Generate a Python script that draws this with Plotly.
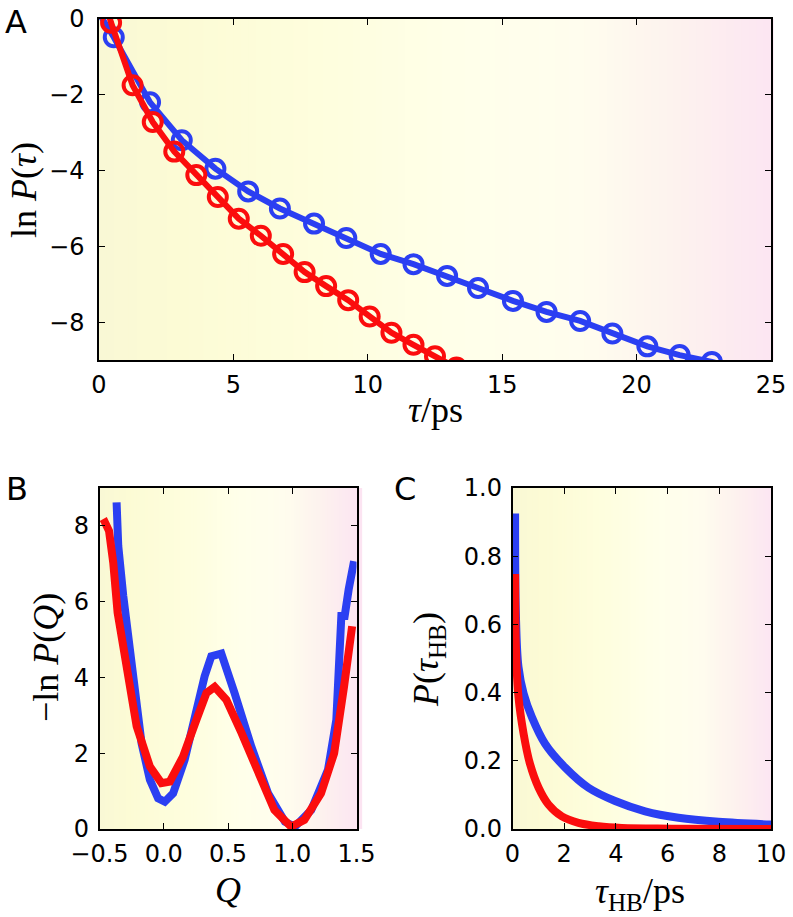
import plotly.graph_objects as go

# ---------------- data ----------------
# Panel A: ln P(tau) vs tau/ps
a_blue_x = [0.55, 1.9, 3.08, 4.33, 5.55, 6.73, 8.0, 9.2, 10.48, 11.7, 12.95, 14.1,
            15.4, 16.65, 17.9, 19.1, 20.4, 21.6, 22.8, 24.1]
a_blue_y = [-0.48, -2.2, -3.2, -3.95, -4.55, -5.0, -5.4, -5.78, -6.2, -6.47, -6.78, -7.1,
            -7.44, -7.73, -7.97, -8.3, -8.64, -8.87, -9.05, -9.3]
a_blue_line_x = [0.0, 0.55, 1.9, 3.08, 4.33, 5.55, 6.73, 8.0, 9.2, 10.48, 11.7, 12.95, 14.1,
                 15.4, 16.65, 17.9, 19.1, 20.4, 21.6, 22.8, 24.1, 25.0]
a_blue_line_y = [0.15, -0.48, -2.2, -3.2, -3.95, -4.55, -5.0, -5.4, -5.78, -6.2, -6.47, -6.78, -7.1,
                 -7.44, -7.73, -7.97, -8.3, -8.64, -8.87, -9.05, -9.3, -9.5]

a_red_x = [0.45, 1.25, 2.0, 2.8, 3.62, 4.42, 5.2, 6.02, 6.85, 7.65, 8.45, 9.27,
           10.07, 10.88, 11.7, 12.5, 13.3]
a_red_y = [-0.1, -1.75, -2.72, -3.5, -4.12, -4.7, -5.27, -5.72, -6.2, -6.68, -7.05, -7.42,
           -7.85, -8.28, -8.6, -8.9, -9.2]
a_red_line_x = [0.0, 0.45, 1.25, 2.0, 2.8, 3.62, 4.42, 5.2, 6.02, 6.85, 7.65, 8.45, 9.27,
                10.07, 10.88, 11.7, 12.5, 13.3, 14.2]
a_red_line_y = [1.0, -0.1, -1.75, -2.72, -3.5, -4.12, -4.7, -5.27, -5.72, -6.2, -6.68, -7.05, -7.42,
                -7.85, -8.28, -8.6, -8.9, -9.2, -9.55]

# Panel B: -ln P(Q) vs Q
b_blue_q = [-0.367, -0.354, -0.315, -0.276, -0.225, -0.173, -0.108, -0.044, 0.008, 0.073,
            0.163, 0.241, 0.318, 0.37, 0.448, 0.551, 0.681, 0.812, 0.943, 1.02, 1.148,
            1.278, 1.343, 1.382, 1.408, 1.439, 1.481]
b_blue_v = [8.62, 7.47, 6.15, 5.0, 3.5, 2.27, 1.3, 0.81, 0.72, 0.94,
            1.83, 3.06, 4.03, 4.56, 4.63, 3.59, 2.18, 0.94, 0.19, 0.06, 0.5,
            1.56, 2.88, 5.62, 5.62, 6.32, 7.07]
b_red_q = [-0.483, -0.457, -0.426, -0.393, -0.359, -0.289, -0.211, -0.108, -0.018, 0.047,
           0.15, 0.254, 0.332, 0.396, 0.487, 0.606, 0.732, 0.861, 0.991, 1.094,
           1.224, 1.326, 1.403, 1.466]
b_red_v = [8.04, 8.09, 7.87, 7.03, 5.71, 4.29, 2.71, 1.65, 1.21, 1.25,
           1.91, 2.88, 3.59, 3.75, 3.41, 2.53, 1.47, 0.5, 0.06, 0.24,
           0.94, 2.0, 3.76, 5.35]

# Panel C: P(tau_HB) vs tau_HB/ps
c_blue_t = [0.1, 0.13, 0.23, 0.43, 0.75, 1.26, 2.04, 2.94, 3.97, 5.13, 6.42, 7.97, 10.0]
c_blue_p = [0.925, 0.634, 0.476, 0.397, 0.328, 0.25, 0.18, 0.121, 0.082, 0.052, 0.033, 0.021, 0.013]
c_red_t = [0.1, 0.13, 0.23, 0.43, 0.68, 1.01, 1.39, 1.91, 2.55, 3.33, 4.23, 6.16, 10.0]
c_red_p = [0.748, 0.536, 0.388, 0.279, 0.19, 0.121, 0.072, 0.037, 0.018, 0.008, 0.003, 0.001, 0.0]

# axis ticks
a_xticks = [0, 5, 10, 15, 20, 25]
a_yticks = [-8, -6, -4, -2, 0]
b_xticks = [-0.5, 0.0, 0.5, 1.0, 1.5]
b_yticks = [0, 2, 4, 6, 8]
c_xticks = [0, 2, 4, 6, 8, 10]
c_yticks = [0.0, 0.2, 0.4, 0.6, 0.8, 1.0]

# ---------------- style ----------------
BLUE = "#2b3ff2"
RED = "#fb0d0d"
W, H = 793, 917

grad_stops = [
    (0.00, (249, 248, 213)),
    (0.12, (252, 251, 213)),
    (0.35, (254, 254, 222)),
    (0.55, (255, 255, 234)),
    (0.72, (255, 253, 238)),
    (0.86, (253, 242, 238)),
    (1.00, (252, 230, 242)),
]


def grad_color(f):
    for (p0, c0), (p1, c1) in zip(grad_stops[:-1], grad_stops[1:]):
        if p0 <= f <= p1:
            t = (f - p0) / (p1 - p0)
            c = [round(c0[k] + (c1[k] - c0[k]) * t) for k in range(3)]
            return "rgb(%d,%d,%d)" % tuple(c)
    return "rgb(%d,%d,%d)" % grad_stops[-1][1]


def px_x(p):
    return p / W


def px_y(p):
    return 1 - p / H


fig = go.Figure()

# Panel A
fig.add_trace(go.Scatter(x=a_blue_line_x, y=a_blue_line_y, mode="lines",
                         line=dict(color=BLUE, width=6), xaxis="x", yaxis="y", showlegend=False))
fig.add_trace(go.Scatter(x=a_blue_x, y=a_blue_y, mode="markers",
                         marker=dict(symbol="circle-open", size=18, color=BLUE, line=dict(width=4, color=BLUE)),
                         xaxis="x", yaxis="y", showlegend=False))
fig.add_trace(go.Scatter(x=a_red_line_x, y=a_red_line_y, mode="lines",
                         line=dict(color=RED, width=6), xaxis="x", yaxis="y", showlegend=False))
fig.add_trace(go.Scatter(x=a_red_x, y=a_red_y, mode="markers",
                         marker=dict(symbol="circle-open", size=18, color=RED, line=dict(width=4, color=RED)),
                         xaxis="x", yaxis="y", showlegend=False))

# Panel B
fig.add_trace(go.Scatter(x=b_blue_q, y=b_blue_v, mode="lines",
                         line=dict(color=BLUE, width=8), xaxis="x2", yaxis="y2", showlegend=False))
fig.add_trace(go.Scatter(x=b_red_q, y=b_red_v, mode="lines",
                         line=dict(color=RED, width=8), xaxis="x2", yaxis="y2", showlegend=False))

# Panel C
fig.add_trace(go.Scatter(x=c_blue_t, y=c_blue_p, mode="lines", line_shape="spline",
                         line=dict(color=BLUE, width=8), xaxis="x3", yaxis="y3", showlegend=False))
fig.add_trace(go.Scatter(x=c_red_t, y=c_red_p, mode="lines", line_shape="spline",
                         line=dict(color=RED, width=8), xaxis="x3", yaxis="y3", showlegend=False))

tickfont = dict(family="DejaVu Sans", size=24, color="black")


def axis(domain, rng, ticks, fmt=None, anchor=None, standoff=6):
    d = dict(domain=domain, range=rng, tickmode="array", tickvals=ticks,
             ticks="inside", ticklen=6, tickwidth=1.3, tickcolor="black",
             showline=True, linecolor="black", linewidth=1.5, mirror="allticks",
             showgrid=False, zeroline=False, tickfont=tickfont, anchor=anchor,
             ticklabelstandoff=standoff, automargin=False, ticklabeloverflow="allow")
    if fmt:
        d["tickformat"] = fmt
    return d


ax_a = [px_x(99), px_x(771)]
ay_a = [px_y(360), px_y(19)]
ax_b = [px_x(99.5), px_x(356.5)]
ay_bc = [px_y(829), px_y(488)]
ax_c = [px_x(512.5), px_x(771)]

fig.update_layout(
    width=W, height=H,
    margin=dict(l=0, r=0, t=0, b=0, pad=0, autoexpand=False),
    paper_bgcolor="white", plot_bgcolor="rgba(0,0,0,0)",
    xaxis=axis(ax_a, [0, 25], a_xticks, anchor="y", standoff=2),
    yaxis=axis(ay_a, [-9, 0], a_yticks, anchor="x", standoff=8),
    xaxis2=axis(ax_b, [-0.5, 1.5], b_xticks, fmt=".1f", anchor="y2", standoff=2),
    yaxis2=axis(ay_bc, [0, 9], b_yticks, anchor="x2", standoff=4),
    xaxis3=axis(ax_c, [0, 10], c_xticks, anchor="y3", standoff=2),
    yaxis3=axis(ay_bc, [0, 1], c_yticks, fmt=".1f", anchor="x3", standoff=4),
)

# background gradients
N = 90
shapes = []
for xr, yr in [("x domain", "y domain"), ("x2 domain", "y2 domain"), ("x3 domain", "y3 domain")]:
    for i in range(N):
        f = (i + 0.5) / N
        shapes.append(dict(type="rect", xref=xr, yref=yr, x0=i / N, x1=(i + 1) / N + 0.004,
                           y0=0, y1=1, fillcolor=grad_color(f), line=dict(width=0), layer="below"))
# slight pink strip beyond the right edge of panel B
shapes.append(dict(type="rect", xref="x2 domain", yref="y2 domain", x0=1.0, x1=1.022, y0=0, y1=1,
                   fillcolor="rgb(252,228,242)", line=dict(width=0), layer="below"))
fig.update_layout(shapes=shapes)

serif = "Liberation Serif"
tfont = dict(family=serif, size=36, color="black")
sans_big = dict(family="DejaVu Sans", size=32, color="black")

ann = [
    dict(text="A", x=px_x(3), y=px_y(22), xanchor="left", yanchor="middle", font=sans_big),
    dict(text="B", x=px_x(4), y=px_y(489), xanchor="left", yanchor="middle", font=sans_big),
    dict(text="C", x=px_x(392), y=px_y(489), xanchor="left", yanchor="middle", font=sans_big),
    dict(text="ln <i>P</i>(<i>τ</i>)", x=px_x(24), y=px_y(190), textangle=-90,
         xanchor="center", yanchor="middle", font=tfont),
    dict(text="<i>τ</i>/ps", x=px_x(435), y=px_y(410), xanchor="center", yanchor="middle", font=tfont),
    dict(text="−ln <i>P</i>(<i>Q</i>)", x=px_x(46), y=px_y(658), textangle=-90,
         xanchor="center", yanchor="middle", font=tfont),
    dict(text="<i>Q</i>", x=px_x(228), y=px_y(890), xanchor="center", yanchor="middle", font=tfont),
    dict(text="<i>P</i>(<i>τ</i><sub>HB</sub>)", x=px_x(428), y=px_y(660), textangle=-90,
         xanchor="center", yanchor="middle", font=tfont),
    dict(text="<i>τ</i><sub>HB</sub>/ps", x=px_x(640), y=px_y(893), xanchor="center", yanchor="middle", font=tfont),
]
for a in ann:
    a.update(xref="paper", yref="paper", showarrow=False)
fig.update_layout(annotations=ann)

fig.write_html("out.html", config={"displayModeBar": False},
               post_script="document.body.style.margin='0px';")
